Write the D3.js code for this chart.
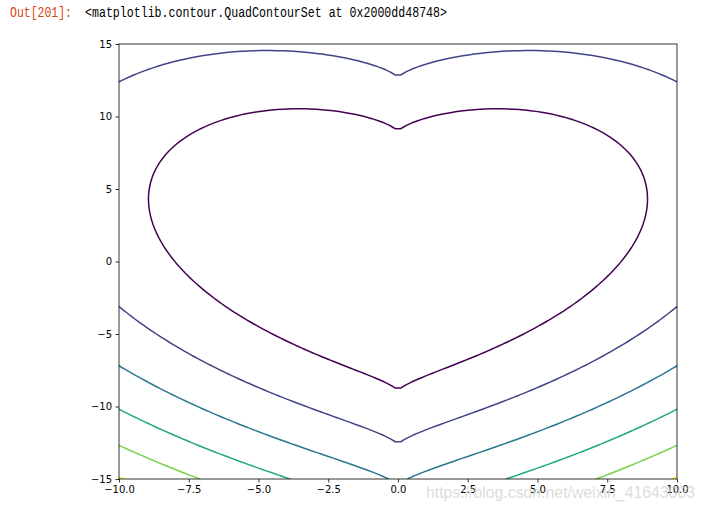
<!DOCTYPE html>
<html>
<head>
<meta charset="utf-8">
<script src="https://cdn.jsdelivr.net/npm/d3@7"></script>
<style>
  html, body { margin: 0; padding: 0; background: #fff; }
  svg { display: block; }
</style>
</head>
<body>
<svg id="chart" width="706" height="508"></svg>
<script>
// ---- data ----
const xDomain = [-10, 10];
const yDomain = [-15, 15];
const xTicks = [-10, -7.5, -5, -2.5, 0, 2.5, 5, 7.5, 10];
const xTickLabels = ["\u221210.0", "\u22127.5", "\u22125.0", "\u22122.5", "0.0", "2.5", "5.0", "7.5", "10.0"];
const yTicks = [-15, -10, -5, 0, 5, 10, 15];
const yTickLabels = ["\u221215", "\u221210", "\u22125", "0", "5", "10", "15"];
const levels = [80, 160, 240, 320, 400, 480];
const levelColors = ["#440154", "#414487", "#2a788e", "#22a884", "#7ad151", "#fde725"];
const gridN = [100, 100];
// the plotted surface: z = x^2 + (y - |x|^(2/3))^2
const surface = (x, y) => x * x + Math.pow(y - Math.cbrt(x * x), 2);

// ---- layout ----
const svg = d3.select("#chart");
const L = 119, R = 677, T = 44, B = 479;
const sx = d3.scaleLinear().domain(xDomain).range([L, R]);
const sy = d3.scaleLinear().domain(yDomain).range([B, T]);

// ---- grid ----
const nx = gridN[0], ny = gridN[1];
const xs = d3.range(nx).map(i => xDomain[0] + i * (xDomain[1] - xDomain[0]) / (nx - 1));
const ys = d3.range(ny).map(j => yDomain[0] + j * (yDomain[1] - yDomain[0]) / (ny - 1));
const values = new Array(nx * ny);
for (let j = 0; j < ny; j++) for (let i = 0; i < nx; i++) values[j * nx + i] = surface(xs[i], ys[j]);

const stepX = (xDomain[1] - xDomain[0]) / (nx - 1);
const stepY = (yDomain[1] - yDomain[0]) / (ny - 1);
const proj = d3.geoTransform({
  point: function(cx, cy) {
    this.stream.point(sx(xDomain[0] + (cx - 0.5) * stepX), sy(yDomain[0] + (cy - 0.5) * stepY));
  }
});
const path = d3.geoPath(proj);
const contours = d3.contours().size([nx, ny]).thresholds(levels)(values);

svg.append("defs").append("clipPath").attr("id", "plotclip")
  .append("rect").attr("x", L).attr("y", T).attr("width", R - L).attr("height", B - T);

svg.append("g").attr("clip-path", "url(#plotclip)")
  .selectAll("path").data(contours).join("path")
  .attr("d", path)
  .attr("fill", "none")
  .attr("stroke", d => levelColors[levels.indexOf(d.value)])
  .attr("stroke-width", 1.5)
  .attr("stroke-linejoin", "round");

// ---- axes ----
const xAxis = d3.axisBottom(sx).tickValues(xTicks).tickSize(3.5).tickPadding(3.5)
  .tickFormat((d, i) => xTickLabels[i]);
const yAxis = d3.axisLeft(sy).tickValues(yTicks).tickSize(3.5).tickPadding(3.5)
  .tickFormat((d, i) => yTickLabels[i]);

const gx = svg.append("g").attr("transform", `translate(0,${B})`).call(xAxis);
const gy = svg.append("g").attr("transform", `translate(${L},0)`).call(yAxis);
[gx, gy].forEach(g => {
  g.select(".domain").remove();
  g.selectAll(".tick line").attr("stroke", "#000").attr("stroke-width", 0.8);
  g.selectAll(".tick text").attr("fill", "#000")
    .style("font-family", "'DejaVu Sans', sans-serif").style("font-size", "10px");
});

// spines
svg.append("rect").attr("x", L).attr("y", T).attr("width", R - L).attr("height", B - T)
  .attr("fill", "none").attr("stroke", "#000").attr("stroke-width", 0.8);

// ---- notebook output text ----
svg.append("text").attr("x", 10).attr("y", 16.5)
  .attr("textLength", 62).attr("lengthAdjust", "spacingAndGlyphs")
  .style("font-family", "'Liberation Mono', 'DejaVu Sans Mono', monospace").style("font-size", "14px")
  .attr("fill", "#d84315").text("Out[201]:");
svg.append("text").attr("x", 85).attr("y", 16.5)
  .attr("textLength", 362).attr("lengthAdjust", "spacingAndGlyphs")
  .style("font-family", "'Liberation Mono', 'DejaVu Sans Mono', monospace").style("font-size", "14px")
  .attr("fill", "#000").text("<matplotlib.contour.QuadContourSet at 0x2000dd48748>");

// watermark
svg.append("text").attr("x", 426).attr("y", 498)
  .attr("textLength", 269).attr("lengthAdjust", "spacingAndGlyphs")
  .style("font-family", "'Liberation Sans', Arial, sans-serif").style("font-size", "16px")
  .attr("fill", "#d0d0d0").attr("fill-opacity", 0.75)
  .text("https://blog.csdn.net/weixin_41643003");
</script>
</body>
</html>
